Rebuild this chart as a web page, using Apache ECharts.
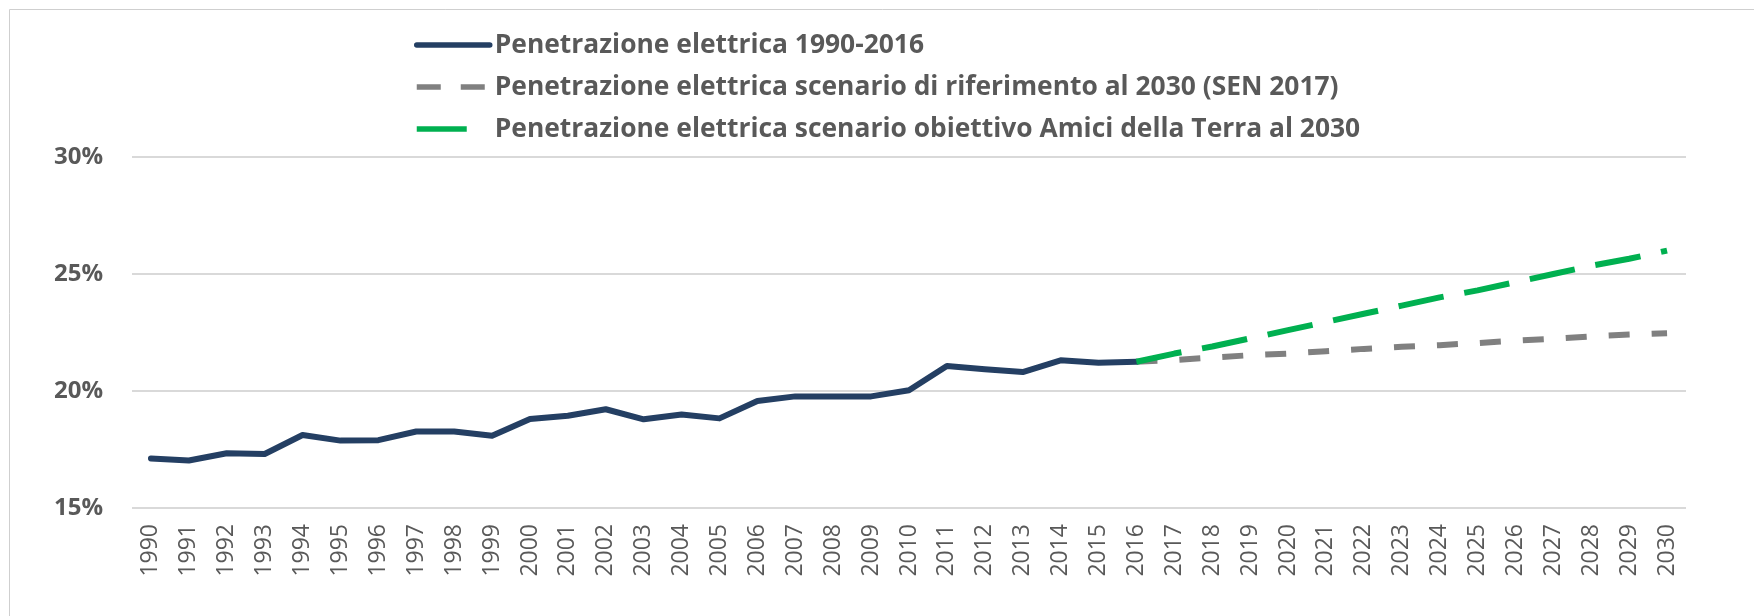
<!DOCTYPE html>
<html>
<head>
<meta charset="utf-8">
<script src="https://cdn.jsdelivr.net/npm/echarts@6/dist/echarts.min.js"></script>
<style>
html,body{margin:0;padding:0;background:#fff;}
#chart{width:1754px;height:616px;}
</style>
</head>
<body>
<div id="chart"></div>
<script>
// ---- data ----
const years = ['1990','1991','1992','1993','1994','1995','1996','1997','1998','1999','2000','2001','2002','2003','2004','2005','2006','2007','2008','2009','2010','2011','2012','2013','2014','2015','2016','2017','2018','2019','2020','2021','2022','2023','2024','2025','2026','2027','2028','2029','2030'];
const historicalYears = ['1990','1991','1992','1993','1994','1995','1996','1997','1998','1999','2000','2001','2002','2003','2004','2005','2006','2007','2008','2009','2010','2011','2012','2013','2014','2015','2016'];
const historicalValues = [17.12,17.03,17.34,17.31,18.12,17.88,17.90,18.27,18.27,18.09,18.80,18.94,19.22,18.79,19.00,18.83,19.57,19.77,19.77,19.77,20.03,21.07,20.93,20.81,21.31,21.21,21.25];
const scenarioYears = ['2016','2017','2018','2019','2020','2021','2022','2023','2024','2025','2026','2027','2028','2029','2030'];
const senValues = [21.25,21.32,21.43,21.53,21.60,21.70,21.80,21.89,21.96,22.05,22.15,22.23,22.33,22.41,22.47];
const amiciValues = [21.25,21.60,21.90,22.25,22.60,22.95,23.30,23.65,24.00,24.30,24.65,25.00,25.35,25.65,26.00];
const yTicks = [15, 20, 25, 30];
const seriesNames = ['Penetrazione elettrica 1990-2016',
  'Penetrazione elettrica scenario di riferimento al 2030 (SEN 2017)',
  'Penetrazione elettrica scenario obiettivo Amici della Terra al 2030'];

function align(cats, vals) {
  const m = {};
  cats.forEach((c, i) => { m[c] = vals[i]; });
  return years.map(y => (y in m ? m[y] : null));
}

const navy = '#243F63', grey = '#808080', green = '#00B050';
const greyDash = [21, 22], greenDash = [46, 21];

const chart = echarts.init(document.getElementById('chart'), null, {renderer: 'canvas'});
chart.setOption({
  animation: false,
  backgroundColor: '#ffffff',
  textStyle: {fontFamily: 'Open Sans'},
  graphic: [{
    type: 'rect', silent: true, z: -10,
    shape: {x: 9.5, y: 9.5, width: 1800, height: 800},
    style: {fill: 'none', stroke: '#cfcfcf', lineWidth: 1}
  }],
  legend: {
    orient: 'vertical',
    left: 409, top: 27,
    itemWidth: 73, itemHeight: 14, itemGap: 16,
    textStyle: {color: '#595959', fontSize: 26.4, fontWeight: 'bold', fontFamily: 'Open Sans', lineHeight: 24},
    data: [
      {name: seriesNames[0], lineStyle: {width: 5.5, type: 'solid', color: navy}, itemStyle: {opacity: 0, borderWidth: 0}},
      {name: seriesNames[1], lineStyle: {width: 5.5, type: [24, 20], color: grey}, itemStyle: {opacity: 0, borderWidth: 0}},
      {name: seriesNames[2], lineStyle: {width: 5.5, type: [50, 30], color: green}, itemStyle: {opacity: 0, borderWidth: 0}}
    ]
  },
  grid: {left: 132, right: 68, top: 157, bottom: 108, containLabel: false},
  xAxis: {
    type: 'category', data: years, boundaryGap: true,
    axisLine: {show: false}, axisTick: {show: false},
    axisLabel: {rotate: 90, margin: 16, color: '#595959', fontSize: 23, fontFamily: 'Open Sans', interval: 0}
  },
  yAxis: {
    type: 'value', min: yTicks[0], max: yTicks[yTicks.length - 1], interval: 5,
    axisLine: {show: false}, axisTick: {show: false},
    axisLabel: {formatter: '{value}%', margin: 29, color: '#595959', fontSize: 24, fontWeight: 'bold', fontFamily: 'Open Sans'},
    splitLine: {lineStyle: {color: '#d9d9d9', width: 2}}
  },
  series: [
    {name: seriesNames[0], type: 'line', data: align(historicalYears, historicalValues),
     symbol: 'none', showSymbol: false, z: 3,
     lineStyle: {color: navy, width: 6, join: 'round', cap: 'round'}, itemStyle: {color: navy}},
    {name: seriesNames[1], type: 'line', data: align(scenarioYears, senValues),
     symbol: 'none', showSymbol: false, z: 2,
     lineStyle: {color: grey, width: 6, type: greyDash, cap: 'butt'}, itemStyle: {color: grey}},
    {name: seriesNames[2], type: 'line', data: align(scenarioYears, amiciValues),
     symbol: 'none', showSymbol: false, z: 4,
     lineStyle: {color: green, width: 6, type: greenDash, cap: 'butt'}, itemStyle: {color: green}}
  ]
});
</script>
</body>
</html>
